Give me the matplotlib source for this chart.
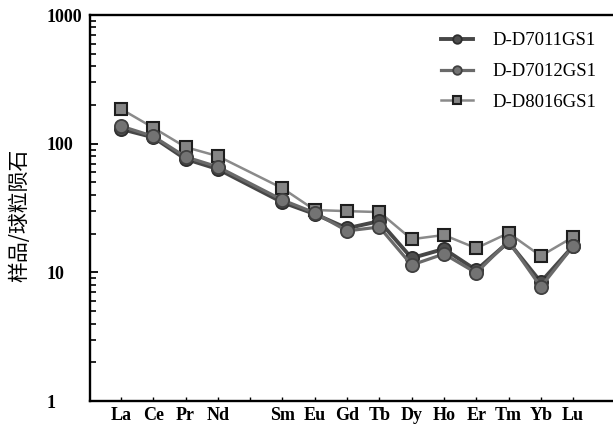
import numpy as np
import matplotlib
matplotlib.use("Agg")
import matplotlib.pyplot as plt
from matplotlib.ticker import LogLocator, NullFormatter

# REE elements (Pm left out, its slot kept empty)
elements = ["La", "Ce", "Pr", "Nd", "", "Sm", "Eu", "Gd", "Tb", "Dy", "Ho", "Er", "Tm", "Yb", "Lu"]
x_pos = [1, 2, 3, 4, 6, 7, 8, 9, 10, 11, 12, 13, 14, 15]

# chondrite normalised values
d7011 = [130, 112, 76, 63.5, 35, 28.4, 22, 25, 12.9, 15.2, 10.4, 17.2, 8.4, 16]
d7012 = [137, 114, 79, 66, 36.5, 29, 21, 22.5, 11.4, 13.9, 9.9, 17.5, 7.7, 16]
d8016 = [186, 133, 94, 80, 45, 30.5, 29.9, 29.4, 18.1, 19.5, 15.4, 20.2, 13.4, 18.8]

fig = plt.figure(figsize=(6.13, 4.30), dpi=100)
ax = fig.add_axes([90 / 613, 29 / 430, 549 / 613, 386 / 430])

ax.plot(x_pos, d8016, color="#8a8a8a", lw=1.8, marker="s", ms=9,
        mfc="#858585", mec="#1e1e1e", mew=1.5, label="D-D8016GS1", zorder=2)
ax.plot(x_pos, d7011, color="#474747", lw=2.8, marker="o", ms=9.5,
        mfc="#4e4e4e", mec="#2e2e2e", mew=1.3, label="D-D7011GS1", zorder=3)
ax.plot(x_pos, d7012, color="#6a6a6a", lw=2.3, marker="o", ms=9.5,
        mfc="#737373", mec="#404040", mew=1.3, label="D-D7012GS1", zorder=4)

ax.set_yscale("log")
ax.set_ylim(1, 1000)
ax.set_xlim(0.04, 17.04)

serif = "Liberation Serif"
ax.set_yticks([1, 10, 100, 1000])
ax.set_yticklabels(["1", "10", "100", "1000"], fontfamily=serif, fontweight="bold",
                   fontsize=13, ha="left")
ax.yaxis.set_minor_locator(LogLocator(base=10, subs=np.arange(2, 10)))
ax.yaxis.set_minor_formatter(NullFormatter())
ax.set_xticks(range(1, 16))
ax.set_xticklabels(elements, fontfamily=serif, fontweight="bold", fontsize=13)

ax.tick_params(axis="y", which="major", direction="in", length=6, width=1.3, pad=31)
ax.tick_params(axis="y", which="minor", direction="in", length=4, width=1.2)
ax.tick_params(axis="x", which="major", direction="in", length=3, width=1.0, pad=4)
for side in ["left", "bottom", "top"]:
    ax.spines[side].set_linewidth(1.7)
ax.spines["right"].set_visible(False)

ax.set_ylabel("样品/球粒陨石", fontfamily=["Noto Sans CJK SC", "DejaVu Sans"], fontsize=15)
ax.yaxis.set_label_coords(-60 / 549, 0.48)

handles, labels = ax.get_legend_handles_labels()
order = [1, 2, 0]
leg = ax.legend([handles[i] for i in order], [labels[i] for i in order],
                loc="upper left", bbox_to_anchor=(0.639, 0.955), frameon=False,
                borderaxespad=0, borderpad=0,
                prop={"family": serif, "size": 13.5}, markerscale=0.65,
                handlelength=1.7, labelspacing=0.72, handletextpad=1.05)

fig.savefig("out.png", dpi=100)
